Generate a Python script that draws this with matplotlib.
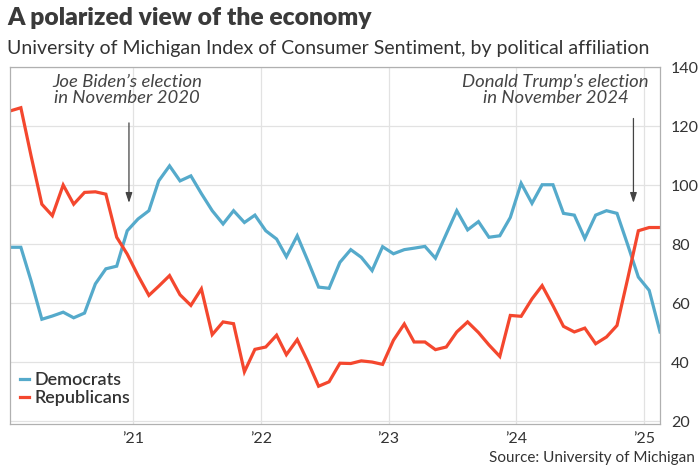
import numpy as np, pandas as pd
import matplotlib
matplotlib.use("Agg")
import matplotlib.pyplot as plt

# monthly readings, Jan 2020 .. Feb 2025 (plotted mid-month)
months = pd.date_range("2020-01-01", periods=62, freq="MS") + pd.Timedelta(days=14)
democrats = [78.9, 78.9, 67.6, 54.5, 55.6, 56.9, 55.0, 56.6, 66.5, 71.6, 72.5, 84.5,
             88.5, 91.3, 101.4, 106.5, 101.4, 103.1, 97.1, 91.3, 86.8, 91.3, 87.3, 89.8,
             84.5, 81.7, 75.7, 82.8, 74.4, 65.4, 65.0, 73.8, 78.1, 75.5, 71.0, 79.1,
             76.7, 78.1, 78.6, 79.2, 75.2, 83.4, 91.3, 84.8, 87.6, 82.3, 82.8, 89.0,
             100.6, 93.8, 100.1, 100.1, 90.4, 89.8, 81.9, 89.8, 91.3, 90.4, 79.6, 68.8,
             64.3, 50.2]
republicans = [125.1, 126.2, 110.0, 93.5, 89.6, 100.0, 93.5, 97.5, 97.7, 96.9, 82.3, 76.6,
               69.3, 62.6, 65.7, 69.3, 62.8, 59.2, 64.8, 49.3, 53.6, 53.0, 36.7, 44.3,
               45.1, 49.1, 42.5, 47.6, 40.2, 31.8, 33.3, 39.6, 39.5, 40.4, 40.0, 39.2,
               47.4, 52.9, 46.8, 46.8, 44.2, 45.1, 50.2, 53.6, 50.0, 45.8, 41.9, 55.8,
               55.5, 61.4, 65.9, 59.1, 52.1, 50.2, 51.5, 46.2, 48.5, 52.4, 68.5, 84.5,
               85.6, 85.6]
year_ticks = pd.to_datetime(["2021-01-01", "2022-01-01", "2023-01-01", "2024-01-01", "2025-01-01"])
year_labels = ["\u201921", "\u201922", "\u201923", "\u201924", "\u201925"]
y_ticks = [20, 40, 60, 80, 100, 120, 140]

BLUE, RED, INK = "#55aacb", "#f4472e", "#333333"
plt.rcParams["font.family"] = ["Lato", "DejaVu Sans"]

fig = plt.figure(figsize=(7, 4.71), dpi=100)
ax = fig.add_axes([0.0143, 0.0998, 0.9286, 0.7579])

ax.plot(months, democrats, color=BLUE, lw=2.3, label="Democrats", solid_joinstyle="miter")
ax.plot(months, republicans, color=RED, lw=2.3, label="Republicans", solid_joinstyle="miter")

ax.set_xlim(months[0], months[-1]); ax.set_ylim(19, 140)
ax.set_xticks(year_ticks); ax.set_xticklabels(year_labels)
ax.set_yticks(y_ticks)
ax.yaxis.tick_right()
ax.tick_params(length=0, labelsize=11.5, labelcolor=INK)
ax.tick_params(axis="x", pad=6)
ax.tick_params(axis="y", pad=8)
ax.grid(color="#e2e2e2", lw=0.9)
for s in ax.spines.values():
    s.set_color("#b0b0b0"); s.set_linewidth(0.9)

# election annotations
arrow = dict(arrowstyle="-|>,head_length=0.6,head_width=0.2", color="#444444", lw=0.9)
biden = pd.Timestamp("2020-12-20"); trump = pd.Timestamp("2024-12-01")
ax.annotate("", xy=(biden, 93), xytext=(biden, 122), arrowprops=arrow)
ax.annotate("", xy=(trump, 93), xytext=(trump, 123.5), arrowprops=arrow)
ax.text(pd.Timestamp("2020-12-15"), 137.5, "Joe Biden\u2019s election\nin November 2020",
        ha="center", va="top", style="italic", fontsize=13.3, color="#444444", linespacing=1.0)
ax.text(pd.Timestamp("2024-04-22"), 137.5, "Donald Trump's election\nin November 2024",
        ha="center", va="top", style="italic", fontsize=13.3, color="#444444", linespacing=1.0)

leg = ax.legend(loc="lower left", bbox_to_anchor=(-0.004, 0.015), frameon=False,
                prop=dict(size=13, weight="semibold"),
                handlelength=0.5, handletextpad=0.3, labelspacing=0.12, borderaxespad=0.3)
for t in leg.get_texts():
    t.set_color(INK)

fig.text(0.01, 0.985, "A polarized view of the economy", ha="left", va="top",
         fontsize=17.7, fontweight="heavy", color="#3a3a3a")
fig.text(0.01, 0.915, "University of Michigan Index of Consumer Sentiment, by political affiliation",
         ha="left", va="top", fontsize=14, color=INK)
fig.text(0.993, 0.012, "Source: University of Michigan", ha="right", va="bottom",
         fontsize=11, color=INK)

fig.savefig("out.png", dpi=100)
